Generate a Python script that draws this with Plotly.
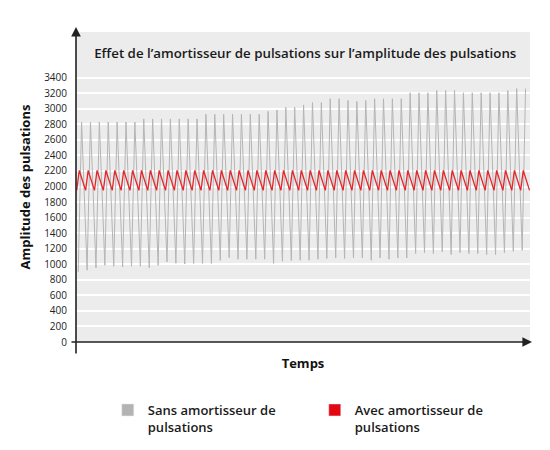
import plotly.graph_objects as go

# ---- data (time in pulsation cycles) ----
cycles = list(range(51))

gray_peaks = [2830, 2830, 2830, 2830, 2830, 2830, 2830,
              2870, 2870, 2870, 2870, 2870, 2870, 2870,
              2930, 2930, 2930, 2930, 2930, 2930, 2930,
              2967, 2985, 3018, 3018, 3050, 3080, 3080, 3130, 3130, 3108,
              3095, 3108, 3130, 3130, 3130, 3130,
              3206, 3206, 3206, 3235, 3235, 3235,
              3206, 3206, 3206, 3206, 3206, 3235, 3260, 3260]
gray_troughs = [902, 924, 953, 987, 975, 966, 975, 975, 953, 987,
                1030, 1013, 1004, 1010, 1010, 1010, 1050, 1085, 1065, 1065,
                1065, 1065, 1010, 1039, 1048, 1052, 1052, 1065, 1074, 1081,
                1074, 1081, 1081, 1052, 1081, 1065, 1081, 1081, 1138, 1150,
                1138, 1159, 1125, 1150, 1138, 1138, 1125, 1125, 1150, 1167, 1180]

red_peaks = [2207, 2207, 2207, 2207, 2207, 2207, 2207, 2207, 2207, 2207,
             2207, 2207, 2207, 2207, 2207, 2207, 2207, 2207, 2207, 2207,
             2207, 2207, 2207, 2207, 2207, 2207, 2207, 2207, 2207, 2207,
             2207, 2207, 2207, 2207, 2207, 2207, 2207, 2207, 2207, 2207,
             2207, 2207, 2207, 2207, 2207, 2207, 2207, 2207, 2207, 2207, 2207]
red_troughs = [1950, 1950, 1950, 1950, 1950, 1950, 1950, 1950, 1950, 1950,
               1950, 1950, 1950, 1950, 1950, 1950, 1950, 1950, 1950, 1950,
               1950, 1950, 1950, 1950, 1950, 1950, 1950, 1950, 1950, 1950,
               1950, 1950, 1950, 1950, 1950, 1950, 1950, 1950, 1950, 1950,
               1950, 1950, 1950, 1950, 1950, 1950, 1950, 1950, 1950, 1950,
               1950, 1950]

y_ticks = [0, 200, 400, 600, 800, 1000, 1200, 1400, 1600, 1800, 2000,
           2200, 2400, 2600, 2800, 3000, 3200, 3400]

title_text = "Effet de l\u2019amortisseur de pulsations sur l\u2019amplitude des pulsations"
y_title = "Amplitude des pulsations"
x_title = "Temps"
name_gray = "Sans amortisseur de<br>pulsations"
name_red = "Avec amortisseur de<br>pulsations"

# phase offsets inside a cycle
GT, GP = 0.25, 0.63
RT, RP = 0.08, 0.37

gx, gy = [], []
for k in cycles:
    gx += [k + GT, k + GP]
    gy += [gray_troughs[k], gray_peaks[k]]

rx, ry = [], []
for k in cycles:
    rx += [k + RT, k + RP]
    ry += [red_troughs[k], red_peaks[k]]
rx.append(len(cycles) + RT)
ry.append(red_troughs[len(cycles)])

GRAY = "#b5b5b5"
RED = "#e5262b"
FONT = "Open Sans"

fig = go.Figure()
fig.add_trace(go.Scatter(x=gx, y=gy, mode="lines", line=dict(color=GRAY, width=1),
                         showlegend=False, hoverinfo="skip"))
fig.add_trace(go.Scatter(x=rx, y=ry, mode="lines", line=dict(color=RED, width=1.3),
                         showlegend=False, hoverinfo="skip"))
fig.add_trace(go.Bar(x=[None], y=[None], name=name_gray, marker=dict(color="#b3b3b3")))
fig.add_trace(go.Bar(x=[None], y=[None], name=name_red, marker=dict(color="#e30613")))

fig.update_layout(
    width=550, height=450,
    margin=dict(l=76, r=20, t=32, b=108, autoexpand=False),
    paper_bgcolor="white",
    plot_bgcolor="#ececec",
    font=dict(family=FONT, color="#1a1a1a", weight=500),
    title=dict(text=title_text, x=0.505, xref="paper", xanchor="center",
               y=1 - 53 / 450, yref="container", yanchor="middle",
               font=dict(size=13.3, color="#1a1a1a", family=FONT, weight=600)),
    xaxis=dict(range=[0, 51.13], showgrid=False, zeroline=False,
               showticklabels=False, ticks="", showline=False, automargin=False,
               title=dict(text=x_title, standoff=16,
                          font=dict(size=13, color="#111", weight=700))),
    yaxis=dict(range=[0, 3988], tickvals=y_ticks, showgrid=True, automargin=False,
               gridcolor="white", gridwidth=1.5, zeroline=False, showline=False,
               ticks="", ticklabelstandoff=8,
               tickfont=dict(size=10, color="#222", weight=500),
               title=dict(text=y_title, standoff=10,
                          font=dict(size=13, color="#111", weight=700))),
    legend=dict(orientation="h", x=0.07, xanchor="left", y=-0.171, yanchor="top",
                valign="top", entrywidth=162, entrywidthmode="pixels",
                font=dict(size=13, color="#1a1a1a", weight=600), traceorder="normal"),
    showlegend=True,
)

# axes with arrowheads
fig.add_annotation(x=0, y=(342 - 27) / 310, xref="paper", yref="paper",
                   ax=0, ay=355 - 27, axref="pixel", ayref="pixel",
                   text="", showarrow=True, arrowhead=2, arrowsize=1.2,
                   arrowwidth=1.6, arrowcolor="#222")
fig.add_annotation(x=(532 - 76) / 454, y=0, xref="paper", yref="paper",
                   ax=-(532 - 70), ay=0, axref="pixel", ayref="pixel",
                   text="", showarrow=True, arrowhead=2, arrowsize=1.2,
                   arrowwidth=1.6, arrowcolor="#222")

fig.write_html("out.html", config={"displayModeBar": False},
               post_script="document.body.style.margin='0';")
